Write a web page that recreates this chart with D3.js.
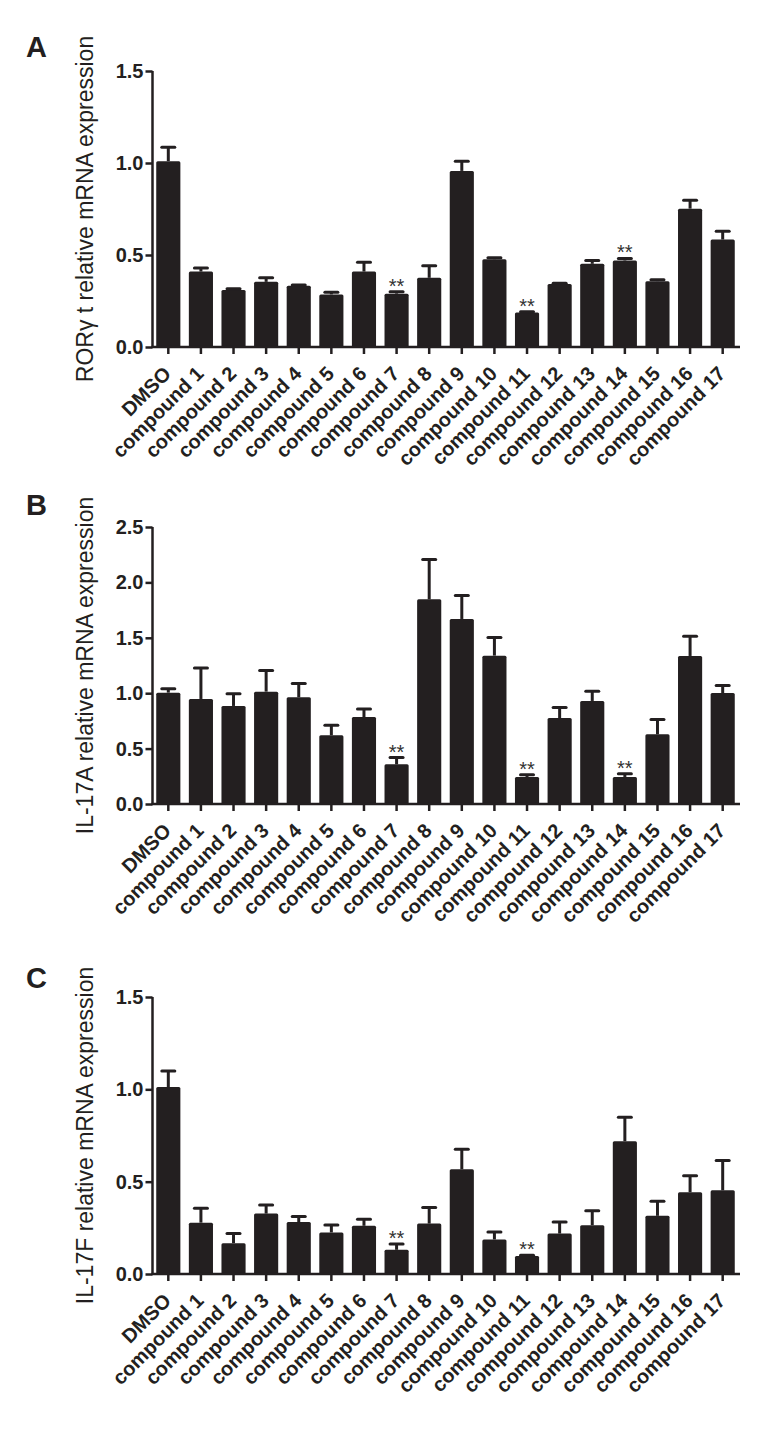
<!DOCTYPE html>
<html><head><meta charset="utf-8">
<script src="https://cdn.jsdelivr.net/npm/d3@7"></script>
<style>
html,body{margin:0;padding:0;background:#ffffff;}
svg{display:block;font-family:"Liberation Sans",Arial,Helvetica,sans-serif;}
</style></head>
<body>
<svg id="chart" width="766" height="1433"></svg>
<script>
const categories = ["DMSO","compound 1","compound 2","compound 3","compound 4","compound 5","compound 6","compound 7","compound 8","compound 9","compound 10","compound 11","compound 12","compound 13","compound 14","compound 15","compound 16","compound 17"];

const rorMean = [1.01,0.41,0.31,0.354,0.333,0.286,0.41,0.29,0.376,0.957,0.477,0.188,0.343,0.452,0.47,0.358,0.752,0.584];
const rorErr  = [0.075,0.02,0.006,0.022,0.004,0.011,0.05,0.01,0.065,0.053,0.008,0.003,0.003,0.018,0.011,0.007,0.046,0.045];
const rorStars = ["compound 7","compound 11","compound 14"];
const rorTicks = [0,0.5,1.0,1.5];

const il17aMean = [1.005,0.948,0.885,1.014,0.963,0.62,0.785,0.358,1.847,1.67,1.339,0.244,0.776,0.93,0.244,0.629,1.336,1.002];
const il17aErr  = [0.035,0.279,0.111,0.19,0.124,0.09,0.072,0.061,0.359,0.211,0.163,0.021,0.094,0.087,0.03,0.133,0.177,0.067];
const il17aStars = ["compound 7","compound 11","compound 14"];
const il17aTicks = [0,0.5,1.0,1.5,2.0,2.5];

const il17fMean = [1.012,0.278,0.167,0.327,0.281,0.225,0.261,0.131,0.273,0.567,0.187,0.097,0.219,0.264,0.719,0.315,0.443,0.453];
const il17fErr  = [0.087,0.078,0.052,0.047,0.03,0.041,0.036,0.031,0.087,0.108,0.041,0.005,0.063,0.078,0.13,0.079,0.089,0.162];
const il17fStars = ["compound 7","compound 11"];
const il17fTicks = [0,0.5,1.0,1.5];

const panels = [
  {letter:"A", title:"RORγ t relative mRNA expression", mean:rorMean, err:rorErr, stars:rorStars, ticks:rorTicks, top:71, bottom:347, letterY:57},
  {letter:"B", title:"IL-17A relative mRNA expression", mean:il17aMean, err:il17aErr, stars:il17aStars, ticks:il17aTicks, top:527, bottom:804, letterY:515},
  {letter:"C", title:"IL-17F relative mRNA expression", mean:il17fMean, err:il17fErr, stars:il17fStars, ticks:il17fTicks, top:997, bottom:1274, letterY:988}
];

const svg = d3.select("#chart");
const ink = "#231f20";
const x = d3.scaleBand().domain(categories).range([152, 739]).paddingInner(0.26).paddingOuter(0.13);

panels.forEach(p => {
  const g = svg.append("g");
  const y = d3.scaleLinear().domain([0, d3.max(p.ticks)]).range([p.bottom, p.top]);
  const rows = categories.map((c,i)=>({c, m:p.mean[i], e:p.err[i]}));

  // bars
  g.selectAll("rect.bar").data(rows).join("rect")
    .attr("x", d=>x(d.c)).attr("width", x.bandwidth())
    .attr("y", d=>y(d.m)).attr("height", d=>y(0)-y(d.m))
    .attr("rx",1.5).attr("fill", ink);

  // error bars
  const cap = 6.5;
  g.selectAll("line.err").data(rows).join("line")
    .attr("x1", d=>x(d.c)+x.bandwidth()/2).attr("x2", d=>x(d.c)+x.bandwidth()/2)
    .attr("y1", d=>y(d.m)).attr("y2", d=>y(d.m+d.e))
    .attr("stroke", ink).attr("stroke-width", 3);
  g.selectAll("line.cap").data(rows).join("line")
    .attr("x1", d=>x(d.c)+x.bandwidth()/2-cap).attr("x2", d=>x(d.c)+x.bandwidth()/2+cap)
    .attr("y1", d=>y(d.m+d.e)).attr("y2", d=>y(d.m+d.e))
    .attr("stroke", ink).attr("stroke-width", 3).attr("stroke-linecap","round");

  // stars
  g.selectAll("text.star").data(rows.filter(d=>p.stars.includes(d.c))).join("text")
    .attr("x", d=>x(d.c)+x.bandwidth()/2).attr("y", d=>y(d.m+d.e)+1)
    .attr("text-anchor","middle").attr("font-size",20).attr("fill","#333")
    .text("**");

  // y axis
  const ya = g.append("g").attr("transform","translate(152.5,0)")
    .call(d3.axisLeft(y).tickValues(p.ticks).tickFormat(d3.format(".1f")).tickSize(7).tickPadding(2));
  ya.select(".domain").attr("stroke", ink).attr("stroke-width",2.5).attr("d", `M0,${p.top}V${p.bottom}`);
  ya.selectAll(".tick line").attr("stroke", ink).attr("stroke-width",2.5);
  ya.selectAll(".tick text").attr("font-size",20).attr("font-weight","bold").attr("fill",ink)
    .attr("font-family","'Liberation Sans',Arial,sans-serif");

  // x axis
  const xa = g.append("g").attr("transform",`translate(0,${p.bottom})`)
    .call(d3.axisBottom(x).tickSize(7).tickSizeOuter(0));
  xa.select(".domain").attr("stroke", ink).attr("stroke-width",2.5).attr("d","M151.5,0H740");
  xa.selectAll(".tick line").attr("stroke", ink).attr("stroke-width",2.5);
  xa.selectAll(".tick text")
    .attr("font-size",20).attr("font-weight","bold").attr("fill",ink)
    .attr("font-family","'Liberation Sans',Arial,sans-serif")
    .attr("text-anchor","end").attr("dy",null).attr("y",null)
    .attr("transform","translate(4,28) rotate(-45)");

  // y title
  g.append("text")
    .attr("transform",`translate(93,${(p.top+p.bottom)/2}) rotate(-90)`)
    .attr("text-anchor","middle").attr("font-size",23).attr("fill",ink)
    .text(p.title);

  // panel letter
  g.append("text").attr("x",26).attr("y",p.letterY)
    .attr("font-size",29).attr("font-weight","bold").attr("fill",ink)
    .text(p.letter);
});
</script>
</body></html>
